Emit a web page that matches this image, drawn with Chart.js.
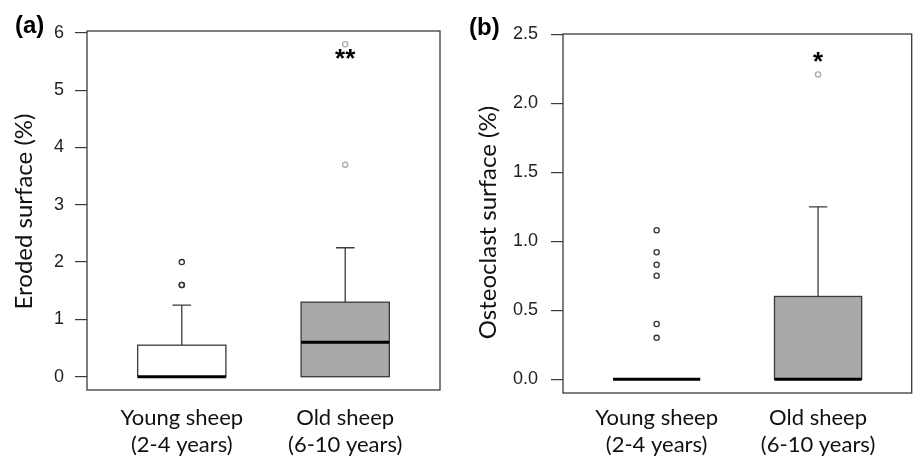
<!DOCTYPE html>
<html>
<head>
<meta charset="utf-8">
<script src="https://cdn.jsdelivr.net/npm/chart.js@4/dist/chart.umd.min.js"></script>
<style>
  html, body { margin: 0; padding: 0; background: #fff; overflow: hidden; }
  #wrapA { position: absolute; left: 0; top: 0; width: 460px; height: 457px; }
  #wrapB { position: absolute; left: 460px; top: 0; width: 457px; height: 457px; }
</style>
</head>
<body>
<div id="wrapA"><canvas id="chartA" width="460" height="457"></canvas></div>
<div id="wrapB"><canvas id="chartB" width="457" height="457"></canvas></div>
<script>
// categories (x axis, two lines each)
const categories = [["Young sheep", "(2-4 years)"], ["Old sheep", "(6-10 years)"]];

// (a) eroded surface, %
const erodedQ1 = [0, 0];
const erodedMedian = [0, 0.6];
const erodedQ3 = [0.55, 1.3];
const erodedWhiskerLow = [0, 0];
const erodedWhiskerHigh = [1.25, 2.25];
const erodedOutliersYoung = [1.6, 1.6, 2.0];
const erodedOutliersOld = [3.7, 5.8];
const erodedTicks = [0, 1, 2, 3, 4, 5, 6];
const erodedTickLabels = ["0", "1", "2", "3", "4", "5", "6"];
const erodedSig = ["", "**"];

// (b) osteoclast surface, %
const osteoQ1 = [0, 0];
const osteoMedian = [0, 0];
const osteoQ3 = [0, 0.6];
const osteoWhiskerLow = [0, 0];
const osteoWhiskerHigh = [0, 1.25];
const osteoOutliersYoung = [0.3, 0.4, 0.75, 0.83, 0.92, 1.08];
const osteoOutliersOld = [2.21];
const osteoTicks = [0, 0.5, 1, 1.5, 2, 2.5];
const osteoTickLabels = ["0.0", "0.5", "1.0", "1.5", "2.0", "2.5"];
const osteoSig = ["", "*"];

const boxFills = ["#ffffff", "#a9a9a9"];
const lineCol = "#3a3a3a";

// draws boxes, whiskers, medians, frame, axis title, panel letter and stars
const boxPlot = {
  id: "boxPlot",
  beforeDatasetsDraw(chart, args, o) {
    const { ctx, scales: { x, y } } = chart;
    ctx.save();
    o.median.forEach((m, i) => {
      const c = i + 1;
      const cx = x.getPixelForValue(c);
      const l = x.getPixelForValue(c - 0.27), r = x.getPixelForValue(c + 0.27);
      const sl = x.getPixelForValue(c - 0.057), sr = x.getPixelForValue(c + 0.057);
      const yq1 = y.getPixelForValue(o.q1[i]), yq3 = y.getPixelForValue(o.q3[i]);
      const ylo = y.getPixelForValue(o.lo[i]), yhi = y.getPixelForValue(o.hi[i]);
      const ym = y.getPixelForValue(m);
      ctx.strokeStyle = lineCol;
      ctx.lineWidth = 1.3;
      if (o.hi[i] > o.q3[i]) {
        ctx.beginPath();
        ctx.moveTo(cx, yq3); ctx.lineTo(cx, yhi);
        ctx.moveTo(sl, yhi); ctx.lineTo(sr, yhi);
        ctx.stroke();
      }
      if (o.lo[i] < o.q1[i]) {
        ctx.beginPath();
        ctx.moveTo(cx, yq1); ctx.lineTo(cx, ylo);
        ctx.moveTo(sl, ylo); ctx.lineTo(sr, ylo);
        ctx.stroke();
      }
      if (o.q3[i] > o.q1[i]) {
        ctx.fillStyle = boxFills[i];
        ctx.fillRect(l, yq3, r - l, yq1 - yq3);
        ctx.strokeRect(l, yq3, r - l, yq1 - yq3);
      }
      ctx.strokeStyle = "#000";
      ctx.lineWidth = 3;
      ctx.beginPath();
      ctx.moveTo(l, ym); ctx.lineTo(r, ym);
      ctx.stroke();
    });
    ctx.restore();
  },
  afterDraw(chart, args, o) {
    const { ctx, chartArea: a, scales: { x } } = chart;
    ctx.save();
    ctx.strokeStyle = lineCol;
    ctx.lineWidth = 1.3;
    ctx.strokeRect(a.left, a.top, a.right - a.left, a.bottom - a.top);

    // y axis title
    ctx.save();
    ctx.translate(o.titleX, (a.top + a.bottom) / 2 + o.titleDy);
    ctx.rotate(-Math.PI / 2);
    ctx.fillStyle = "#111";
    ctx.font = "24px Lato";
    ctx.textAlign = "center";
    ctx.textBaseline = "middle";
    ctx.fillText(o.title, 0, 0);
    ctx.restore();

    ctx.fillStyle = "#000";
    ctx.font = "bold 24px 'Liberation Sans', Arial, sans-serif";
    ctx.textAlign = "left";
    ctx.textBaseline = "alphabetic";
    ctx.fillText(o.letter, o.letterX, o.letterY);
    ctx.font = "bold 26px 'Liberation Sans', Arial, sans-serif";
    ctx.textAlign = "center";
    o.sig.forEach((s, i) => {
      if (s) ctx.fillText(s, x.getPixelForValue(i + 1), a.top + 36);
    });
    ctx.restore();
  }
};

function outlierSet(vals, c, col) {
  return {
    data: vals.map(v => ({ x: c, y: v })),
    pointRadius: 2.6,
    pointBorderWidth: 1.3,
    borderColor: col,
    backgroundColor: "rgba(0,0,0,0)"
  };
}

function makeChart(id, p) {
  return new Chart(document.getElementById(id), {
    type: "scatter",
    data: {
      datasets: [
        outlierSet(p.outYoung, 1, "#333"),
        outlierSet(p.outOld, 2, "#aaaaaa")
      ]
    },
    options: {
      responsive: false,
      animation: false,
      devicePixelRatio: 1,
      layout: { padding: { left: 0, right: p.padRight, top: p.top, bottom: 0 } },
      plugins: {
        legend: { display: false },
        tooltip: { enabled: false },
        boxPlot: p.box
      },
      scales: {
        x: {
          type: "linear",
          min: 0.42,
          max: 2.58,
          grid: { display: false, drawTicks: false },
          border: { display: false },
          afterBuildTicks: ax => { ax.ticks = categories.map((c, i) => ({ value: i + 1 })); },
          afterFit: ax => { ax.height = p.xHeight; },
          ticks: {
            autoSkip: false,
            maxRotation: 0,
            padding: p.catPad,
            color: "#111",
            font: { family: "Lato", size: 22, lineHeight: 1.23 },
            callback: (v, i) => categories[i]
          }
        },
        y: {
          min: p.yMin,
          max: p.yMax,
          grid: { drawOnChartArea: false, drawTicks: true, tickLength: 12, color: lineCol, lineWidth: 1.2 },
          border: { display: false },
          afterBuildTicks: ax => { ax.ticks = p.ticks.map(v => ({ value: v })); },
          afterFit: ax => { ax.width = p.yWidth; },
          ticks: {
            padding: p.tickPad,
            color: "#222",
            font: { family: "'Liberation Sans', Arial, sans-serif", size: 18 },
            callback: (v, i) => p.tickLabels[i]
          }
        }
      }
    },
    plugins: [boxPlot]
  });
}

makeChart("chartA", {
  outYoung: erodedOutliersYoung, outOld: erodedOutliersOld,
  ticks: erodedTicks, tickLabels: erodedTickLabels,
  yMin: -0.232, yMax: 6.032,
  top: 31, padRight: 20, xHeight: 67, yWidth: 87, tickPad: 11, catPad: 14,
  box: { q1: erodedQ1, median: erodedMedian, q3: erodedQ3, lo: erodedWhiskerLow, hi: erodedWhiskerHigh,
         sig: erodedSig, title: "Eroded surface (%)", titleX: 24, titleDy: 1,
         letter: "(a)", letterX: 15, letterY: 33 }
});

makeChart("chartB", {
  outYoung: osteoOutliersYoung, outOld: osteoOutliersOld,
  ticks: osteoTicks, tickLabels: osteoTickLabels,
  yMin: -0.1, yMax: 2.503,
  top: 34, padRight: 1, xHeight: 64, yWidth: 103, tickPad: 13, catPad: 11,
  box: { q1: osteoQ1, median: osteoMedian, q3: osteoQ3, lo: osteoWhiskerLow, hi: osteoWhiskerHigh,
         sig: osteoSig, title: "Osteoclast surface (%)", titleX: 28, titleDy: 9,
         letter: "(b)", letterX: 9, letterY: 35 }
});
</script>
</body>
</html>
